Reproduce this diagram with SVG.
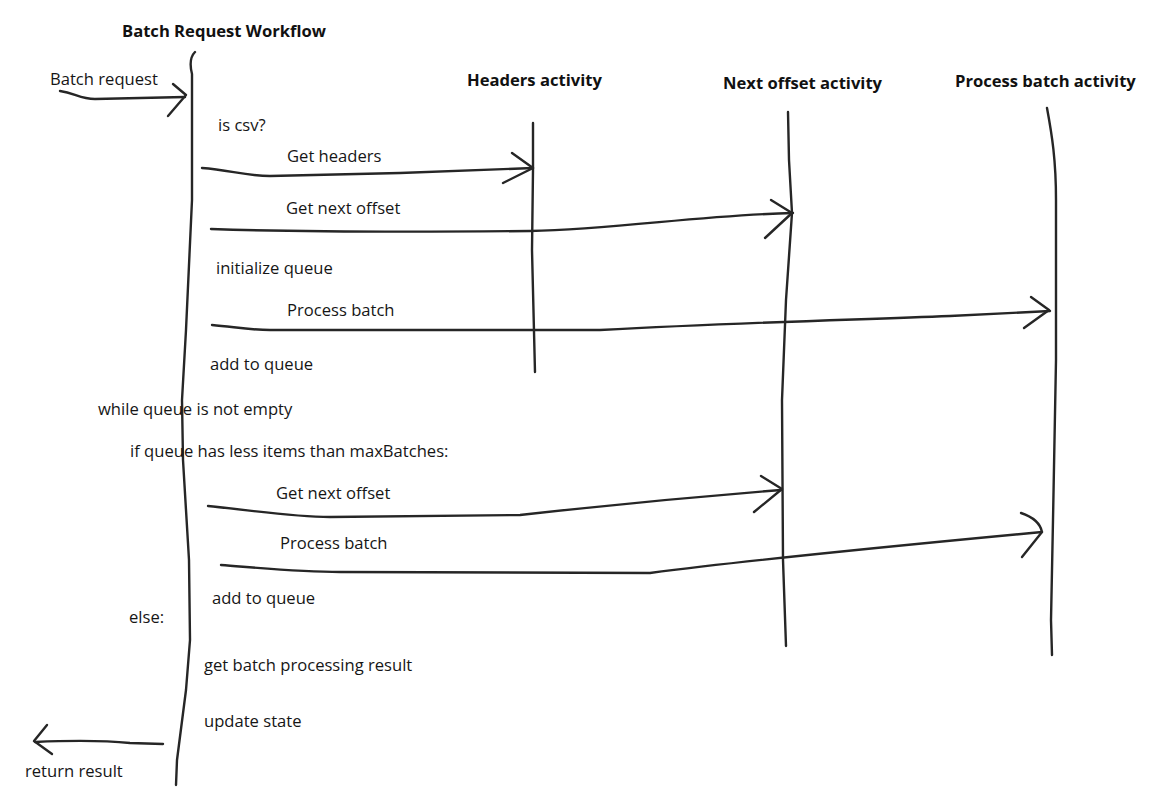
<svg xmlns="http://www.w3.org/2000/svg" width="1168" height="806" viewBox="0 0 1168 806">
<style>
.ln{fill:none;stroke:#262626;stroke-width:2.4;stroke-linecap:round;stroke-linejoin:round}
.t{font-family:"Open Sans","Noto Sans",sans-serif;font-size:16.6px;fill:#161616}
.h{font-family:"Open Sans","Noto Sans",sans-serif;font-size:16.6px;font-weight:bold;fill:#111}
</style>
<rect width="1168" height="806" fill="#fff"/>
<g id="workflow">
<text class="h" x="122" y="37">Batch Request Workflow</text>
<path class="ln" d="M195,52 C189,58 190,66 192,74 L192,200 L186,330 L182,400 L183,460 L189,560 L190,640 L186,690 L177,760 L176,785"/>
</g>
<g id="headers-activity">
<text class="h" x="467" y="86">Headers activity</text>
<path class="ln" d="M533,123 L533,170 L532,250 L535,372"/>
</g>
<g id="next-offset-activity">
<text class="h" x="723" y="89">Next offset activity</text>
<path class="ln" d="M788,112 L789,160 L792,213 L786,300 L782,400 L783,560 L786,646"/>
</g>
<g id="process-batch-activity">
<text class="h" x="955" y="87">Process batch activity</text>
<path class="ln" d="M1047,108 C1052,135 1056,160 1056,200 L1056,360 L1053,520 L1051,620 L1052,655"/>
</g>
<g id="labels">
<text class="t" x="50" y="85">Batch request</text>
<text class="t" x="218" y="131">is csv?</text>
<text class="t" x="287" y="162">Get headers</text>
<text class="t" x="286" y="214">Get next offset</text>
<text class="t" x="216" y="274">initialize queue</text>
<text class="t" x="287" y="316">Process batch</text>
<text class="t" x="210" y="370">add to queue</text>
<text class="t" x="98" y="415">while queue is not empty</text>
<text class="t" x="130" y="457">if queue has less items than maxBatches:</text>
<text class="t" x="276" y="499">Get next offset</text>
<text class="t" x="280" y="549">Process batch</text>
<text class="t" x="212" y="604">add to queue</text>
<text class="t" x="129" y="623">else:</text>
<text class="t" x="204" y="671">get batch processing result</text>
<text class="t" x="204" y="727">update state</text>
<text class="t" x="25" y="777">return result</text>
</g>
<g id="connectors">
<path class="ln" d="M60,91 C75,93 80,99 95,99 L185,97"/>
<path class="ln" d="M173,84 L186,95 L168,116"/>
<path class="ln" d="M202,168 C230,170 245,176 270,176 L400,173 L533,168"/>
<path class="ln" d="M512,153 L533,168 L503,183"/>
<path class="ln" d="M211,229 C300,232 420,232 530,231 C620,229 700,215 793,213"/>
<path class="ln" d="M771,200 L792,213 L765,238"/>
<path class="ln" d="M212,325 C235,327 250,330 270,330 L600,330 C750,322 850,320 950,316 L1050,311"/>
<path class="ln" d="M1031,297 L1049,310 L1024,328"/>
<path class="ln" d="M208,506 C250,510 290,517 330,517 L520,515 C600,506 680,498 781,490"/>
<path class="ln" d="M761,476 L782,489 L754,512"/>
<path class="ln" d="M221,565 C260,568 300,572 340,572 L650,573 C750,560 850,550 1042,532"/>
<path class="ln" d="M1021,513 C1030,516 1040,522 1042,532 L1022,557"/>
<path class="ln" d="M163,744 L130,743 C110,741 80,740 35,742"/>
<path class="ln" d="M47,725 L34,741 L52,754"/>
</g>
</svg>
